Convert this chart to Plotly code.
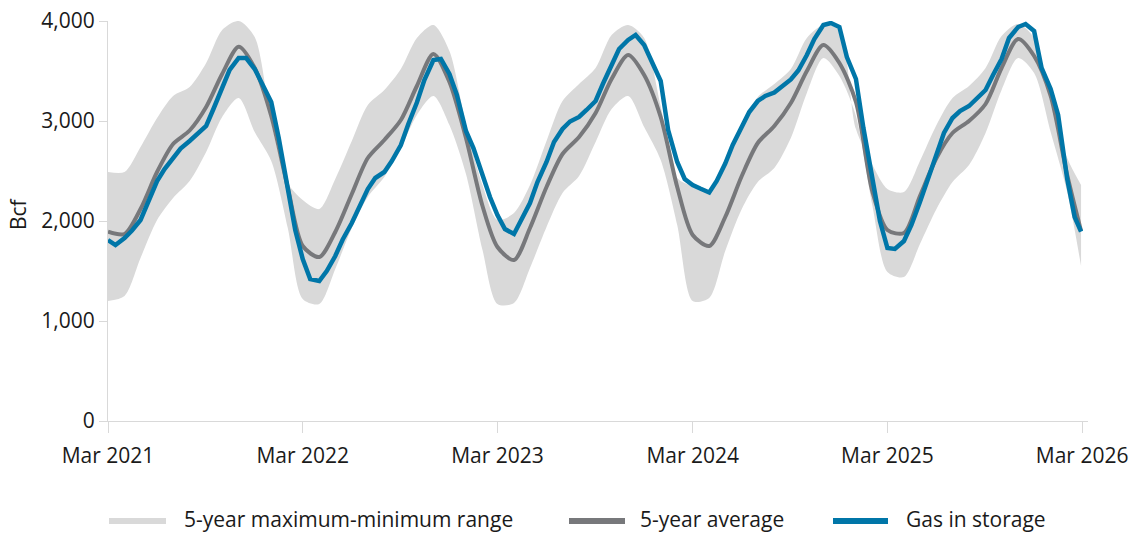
import pandas as pd
import plotly.graph_objects as go

# Monthly dates for the 5-year statistics, semi-monthly dates for current storage
month_dates = list(pd.date_range("2021-03-01", "2026-02-01", freq="MS")) + [pd.Timestamp("2026-02-27")]
half_month_dates = list(pd.date_range("2021-03-01", "2026-02-15", freq="SMS")) + [pd.Timestamp("2026-02-27")]

# 5-year maximum and minimum (Bcf)
range_max = [2490, 2490, 2740, 3030, 3250, 3340, 3580, 3910, 4000, 3840, 2990, 2380,
             2210, 2120, 2420, 2800, 3160, 3310, 3520, 3830, 3960, 3700, 2960, 2360,
             2010, 2080, 2360, 2800, 3200, 3370, 3530, 3860, 3960, 3830, 3150, 2430,
             2350, 2310, 2600, 2960, 3240, 3370, 3520, 3830, 3960, 3910, 2920, 2560,
             2320, 2290, 2600, 2960, 3230, 3350, 3530, 3850, 3970, 3830, 3190, 2630,
             2360]
range_min = [1200, 1250, 1630, 2010, 2230, 2400, 2690, 3040, 3230, 2890, 2600, 1930,
             1220, 1170, 1520, 1930, 2240, 2440, 2730, 3060, 3250, 2960, 2470, 1710,
             1170, 1180, 1530, 1940, 2280, 2450, 2790, 3120, 3250, 2940, 2610, 1960,
             1200, 1230, 1700, 2120, 2390, 2530, 2830, 3280, 3630, 3450, 3050, 2150,
             1490, 1440, 1770, 2120, 2390, 2560, 2880, 3310, 3630, 3480, 2890, 2290,
             1550]

# 5-year average (Bcf)
five_year_avg = [1893, 1870, 2120, 2490, 2770, 2905, 3140, 3470, 3743, 3530, 3050, 2335,
                 1750, 1640, 1890, 2270, 2630, 2810, 3010, 3350, 3670, 3390, 2830, 2150,
                 1740, 1610, 1930, 2340, 2670, 2840, 3080, 3420, 3660, 3460, 3040, 2340,
                 1860, 1750, 2040, 2450, 2780, 2950, 3180, 3500, 3760, 3580, 3190, 2290,
                 1910, 1880, 2250, 2630, 2880, 3000, 3170, 3530, 3820, 3650, 3250, 2460,
                 1900]

# Working gas in storage (Bcf)
gas_in_storage = [1810, 1760, 1830, 1905, 2010, 2180, 2400, 2520, 2630, 2725, 2800, 2865,
                  2950, 3125, 3320, 3510, 3630, 3630, 3520, 3360, 3190, 2830, 2330, 1910,
                  1620, 1420, 1400, 1500, 1650, 1815, 1980, 2150, 2320, 2430, 2490, 2600,
                  2760, 2970, 3185, 3410, 3610, 3620, 3470, 3260, 2900, 2730, 2450, 2240,
                  2060, 1920, 1870, 2010, 2180, 2390, 2590, 2790, 2920, 2995, 3040, 3110,
                  3200, 3375, 3560, 3720, 3810, 3860, 3760, 3590, 3400, 2910, 2590, 2420,
                  2360, 2325, 2285, 2400, 2575, 2760, 2930, 3090, 3200, 3250, 3285, 3340,
                  3415, 3505, 3660, 3820, 3960, 3980, 3940, 3640, 3420, 2930, 2400, 2000,
                  1730, 1720, 1800, 1960, 2190, 2410, 2650, 2880, 3030, 3100, 3150, 3225,
                  3310, 3460, 3620, 3830, 3940, 3970, 3900, 3530, 3320, 3060, 2420, 2040,
                  1893]

tick_dates = ["2021-03-01", "2022-03-01", "2023-03-01", "2024-03-01", "2025-03-01", "2026-03-01"]
tick_labels = ["Mar 2021", "Mar 2022", "Mar 2023", "Mar 2024", "Mar 2025", "Mar 2026"]
y_ticks = [0, 1000, 2000, 3000, 4000]

legend_labels = ["5-year maximum-minimum range", "5-year average", "Gas in storage"]

BAND = "#d9d9d9"
AVG = "#77787b"
BLUE = "#0076a8"
AXIS = "#d9d9d9"
TEXT = "#1a1a1a"
FONT = "Open Sans"
TICK_SIZE = 21
LEGEND_SIZE = 21

W, H = 1147, 533
L, R, T, B = 108, 59, 21, 112
PW, PH = W - L - R, H - T - B
LEGEND_Y = 519


def px_x(p):
    return (p - L) / PW


def px_y(p):
    return (T + PH - p) / PH


fig = go.Figure()
fig.add_trace(go.Scatter(x=month_dates, y=range_max, mode="lines",
                         line=dict(width=0, color=BAND, shape="spline", smoothing=0.8),
                         hoverinfo="skip", showlegend=False))
fig.add_trace(go.Scatter(x=month_dates, y=range_min, mode="lines", fill="tonexty",
                         fillcolor=BAND,
                         line=dict(width=0, color=BAND, shape="spline", smoothing=0.8),
                         name=legend_labels[0], showlegend=False))
fig.add_trace(go.Scatter(x=month_dates, y=five_year_avg, mode="lines",
                         line=dict(width=4, color=AVG, shape="spline", smoothing=0.8),
                         name=legend_labels[1], showlegend=False))
fig.add_trace(go.Scatter(x=half_month_dates, y=gas_in_storage, mode="lines",
                         line=dict(width=4.5, color=BLUE),
                         name=legend_labels[2], showlegend=False))

# Legend drawn along the bottom: swatch line followed by its label
legend_items = [
    (legend_labels[0], BAND, 109, 166, 182),
    (legend_labels[1], AVG, 569, 625, 638),
    (legend_labels[2], BLUE, 833, 888, 904),
]
shapes = []
annotations = []
for label, color, x0, x1, xt in legend_items:
    shapes.append(dict(type="line", xref="paper", yref="paper",
                       x0=px_x(x0), x1=px_x(x1), y0=px_y(LEGEND_Y + 2), y1=px_y(LEGEND_Y + 2),
                       line=dict(color=color, width=6)))
    annotations.append(dict(text=label, xref="paper", yref="paper",
                            x=px_x(xt), y=px_y(LEGEND_Y), xanchor="left", yanchor="middle",
                            showarrow=False,
                            font=dict(family=FONT, size=LEGEND_SIZE, color=TEXT)))

annotations.append(dict(text="Bcf", xref="paper", yref="paper", x=px_x(18), y=px_y(214),
                        xanchor="center", yanchor="middle", textangle=-90, showarrow=False,
                        font=dict(family=FONT, size=TICK_SIZE, color=TEXT)))

fig.update_layout(
    width=W, height=H,
    margin=dict(l=L, r=R, t=T, b=B, autoexpand=False),
    paper_bgcolor="white", plot_bgcolor="white",
    font=dict(family=FONT, size=TICK_SIZE, color=TEXT),
    showlegend=False,
    shapes=shapes,
    annotations=annotations,
    xaxis=dict(type="date", range=["2021-03-01", "2026-03-12"],
               tickvals=tick_dates, ticktext=tick_labels,
               ticks="outside", ticklen=11, tickwidth=1, tickcolor=AXIS,
               showline=True, linecolor=AXIS, linewidth=1, automargin=False,
               showgrid=False, zeroline=False, ticklabelstandoff=5,
               tickfont=dict(family=FONT, size=TICK_SIZE, color=TEXT)),
    yaxis=dict(range=[0, 4000], tickvals=y_ticks, tickformat=",",
               ticks="outside", ticklen=8, tickwidth=1, tickcolor=AXIS,
               showline=True, linecolor=AXIS, linewidth=1, automargin=False,
               showgrid=False, zeroline=False,
               tickfont=dict(family=FONT, size=TICK_SIZE, color=TEXT)),
)

fig.write_html("out.html")
